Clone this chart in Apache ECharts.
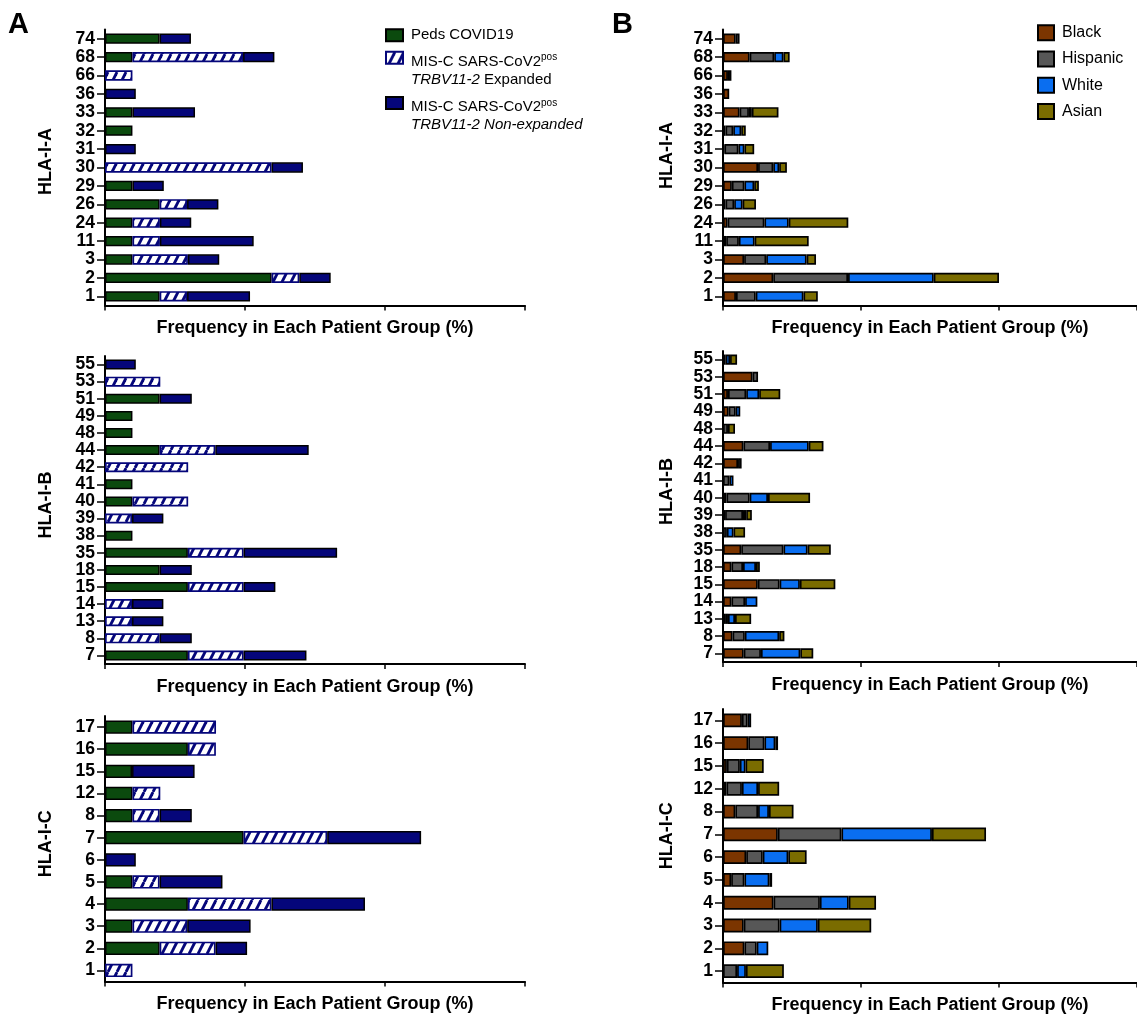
<!DOCTYPE html>
<html>
<head>
<meta charset="utf-8">
<script src="https://cdn.jsdelivr.net/npm/echarts@6/dist/echarts.min.js"></script>
<style>
html,body{margin:0;padding:0;background:#fff;}
#c{width:1137px;height:1021px;}
</style>
</head>
<body>
<div id="c"></div>
<script>
// ---------- categories (HLA alleles, top to bottom) ----------
const catsA = ['74','68','66','36','33','32','31','30','29','26','24','11','3','2','1'];
const catsB = ['55','53','51','49','48','44','42','41','40','39','38','35','18','15','14','13','8','7'];
const catsC = ['17','16','15','12','8','7','6','5','4','3','2','1'];

// ---------- Panel A: patient groups ----------
const pedsA = [3.9, 1.96, 0, 0, 1.96, 1.96, 0, 0, 1.96, 3.9, 1.96, 1.96, 1.96, 11.9, 3.9];
const expA  = [0, 7.9, 1.96, 0, 0, 0, 0, 11.9, 0, 1.96, 1.96, 1.96, 3.96, 1.98, 1.96];
const nonA  = [2.24, 2.24, 0, 2.2, 4.47, 0, 2.2, 2.24, 2.24, 2.24, 2.24, 6.7, 2.24, 2.24, 4.5];

const pedsB = [0, 0, 3.9, 1.96, 1.96, 3.9, 0, 1.96, 1.96, 0, 1.96, 5.92, 3.9, 5.92, 0, 0, 0, 5.92];
const expB  = [0, 3.95, 0, 0, 0, 3.98, 5.94, 0, 3.98, 1.93, 0, 3.98, 0, 3.98, 1.93, 1.93, 3.9, 3.98];
const nonB  = [2.2, 0, 2.3, 0, 0, 6.67, 0, 0, 0, 2.24, 0, 6.68, 2.3, 2.27, 2.24, 2.24, 2.3, 4.49];

const pedsC = [1.96, 5.92, 1.93, 1.96, 1.96, 9.9, 0, 1.96, 5.92, 1.96, 3.9, 0];
const expC  = [5.97, 2.0, 0, 1.99, 1.94, 5.97, 0, 1.94, 5.97, 3.91, 4.0, 1.96];
const nonC  = [0, 0, 4.47, 0, 2.3, 6.71, 2.2, 4.49, 6.68, 4.53, 2.25, 0];

// ---------- Panel B: ethnicity ----------
const blackA = [0.92, 1.93, 0.36, 0.45, 1.2, 0.18, 0.1, 2.54, 0.64, 0.18, 0.33, 0.23, 1.53, 3.64, 0.94];
const hispA  = [0.28, 1.78, 0.25, 0, 0.68, 0.56, 1.02, 1.1, 0.91, 0.63, 2.67, 0.92, 1.6, 5.42, 1.43];
const whiteA = [0, 0.67, 0, 0, 0.21, 0.58, 0.43, 0.43, 0.71, 0.61, 1.76, 1.14, 2.93, 6.21, 3.46];
const asianA = [0, 0.45, 0, 0, 1.93, 0.33, 0.71, 0.56, 0.34, 0.97, 4.32, 3.92, 0.68, 4.73, 1.04];

const blackB = [0, 2.14, 0.36, 0.41, 0, 1.48, 1.09, 0, 0.25, 0.15, 0, 1.32, 0.61, 2.52, 0.61, 0.15, 0.69, 1.5];
const hispB  = [0.2, 0.4, 1.32, 0.51, 0.36, 1.93, 0.26, 0.46, 1.68, 1.3, 0.28, 3.06, 0.84, 1.58, 0.99, 0.21, 0.89, 1.25];
const whiteB = [0.31, 0, 0.94, 0.33, 0, 2.8, 0, 0.3, 1.33, 0.23, 0.48, 1.75, 0.94, 1.47, 0.89, 0.51, 2.49, 2.85];
const asianB = [0.51, 0, 1.53, 0, 0.51, 1.07, 0, 0, 3.05, 0.41, 0.84, 1.68, 0.28, 2.57, 0, 1.17, 0.38, 0.94];

const blackC = [1.37, 1.83, 0.28, 0.25, 0.89, 3.97, 1.68, 0.59, 3.66, 1.5, 1.55, 0];
const hispC  = [0.41, 1.17, 0.94, 1.12, 1.65, 4.61, 1.2, 0.96, 3.36, 2.6, 0.89, 1.02];
const whiteC = [0.26, 0.79, 0.41, 1.17, 0.79, 6.56, 1.85, 1.81, 2.09, 2.77, 0.84, 0.64];
const asianC = [0, 0.2, 1.32, 1.53, 1.78, 3.92, 1.33, 0.2, 1.98, 3.87, 0, 2.75];

const hlaNames = ['HLA-I-A', 'HLA-I-B', 'HLA-I-C'];
const xName = 'Frequency in Each Patient Group (%)';
const nPeds = 'Peds COVID19';
const nExp = 'MIS-C SARS-CoV2pos TRBV11-2 Expanded';
const nNon = 'MIS-C SARS-CoV2pos TRBV11-2 Non-expanded';
const ethNames = ['Black', 'Hispanic', 'White', 'Asian'];

// ---------- styling ----------
const FF = '"Liberation Sans", Arial, Helvetica, sans-serif';
const GREEN = '#0B4A0E', NAVY = '#05067A';
const ETH_COLORS = ['#7B3500', '#575757', '#0A6EF0', '#7A6C00'];

function makeHatch() {
  const c = document.createElement('canvas');
  c.width = 9; c.height = 18;
  const g = c.getContext('2d');
  g.fillStyle = '#ffffff'; g.fillRect(0, 0, 9, 18);
  g.strokeStyle = NAVY; g.lineWidth = 2.8;
  [-9, 0, 9].forEach(function (x0) {
    g.beginPath(); g.moveTo(x0, 18); g.lineTo(x0 + 9, 0); g.stroke();
  });
  return c;
}
const HATCH = { image: makeHatch(), repeat: 'repeat' };

const grids = [
  { left: 105, top: 29.5, width: 420, height: 276 },
  { left: 105, top: 356, width: 420, height: 308 },
  { left: 105, top: 716, width: 420, height: 265.5 },
  { left: 723, top: 29.5, width: 421, height: 276 },
  { left: 723, top: 351, width: 421, height: 311 },
  { left: 723, top: 709, width: 421, height: 273.5 }
];
const catList = [catsA, catsB, catsC, catsA, catsB, catsC];
const nameShift = [12, 10, 10, 24, 30, 20];
const nameGaps = [50, 50, 50, 47, 47, 47];
const barW = [10.3, 10, 13.3, 10.3, 10.2, 13.8];

const xAxes = grids.map(function (g, i) {
  return {
    type: 'value', gridIndex: i, min: 0, max: 30, interval: 10,
    axisLine: { show: true, onZero: false, lineStyle: { color: '#000', width: 2 } },
    axisTick: { show: true, length: 5, lineStyle: { color: '#000', width: 1.5 } },
    axisLabel: { show: false },
    splitLine: { show: false },
    name: xName, nameLocation: 'middle', nameGap: 14,
    nameTextStyle: { fontSize: 18, fontWeight: 'bold', color: '#000', fontFamily: FF }
  };
});
const yAxes = grids.map(function (g, i) {
  return {
    type: 'category', gridIndex: i, data: catList[i], inverse: true,
    axisLine: { show: true, onZero: false, lineStyle: { color: '#000', width: 2 } },
    axisTick: { show: true, alignWithLabel: true, interval: 0, length: 8, lineStyle: { color: '#000', width: 1.5 } },
    axisLabel: { interval: 0, fontSize: 17.5, fontWeight: 'bold', color: '#000', margin: 10, fontFamily: FF },
    splitLine: { show: false },
    name: hlaNames[i % 3], nameLocation: 'middle', nameGap: nameGaps[i],
    nameTextStyle: { fontSize: 18, fontWeight: 'bold', color: '#000', fontFamily: FF, padding: [0, 0, 0, nameShift[i]] }
  };
});

function clean(arr) { return arr.map(function (v) { return v === 0 ? null : v; }); }

const series = [];
const groupSets = [[pedsA, expA, nonA], [pedsB, expB, nonB], [pedsC, expC, nonC]];
groupSets.forEach(function (set, k) {
  const names = [nPeds, nExp, nNon];
  const fills = [GREEN, HATCH, NAVY];
  const borders = ['#000', NAVY, '#000'];
  set.forEach(function (arr, j) {
    series.push({
      type: 'bar', name: names[j], stack: 'p' + k, xAxisIndex: k, yAxisIndex: k,
      barWidth: barW[k], data: clean(arr),
      itemStyle: { color: fills[j], borderColor: borders[j], borderWidth: j === 1 ? 1.7 : 1.5 }
    });
  });
});
const ethSets = [[blackA, hispA, whiteA, asianA], [blackB, hispB, whiteB, asianB], [blackC, hispC, whiteC, asianC]];
ethSets.forEach(function (set, k) {
  set.forEach(function (arr, j) {
    series.push({
      type: 'bar', name: ethNames[j], stack: 'e' + k, xAxisIndex: k + 3, yAxisIndex: k + 3,
      barWidth: barW[k + 3], data: clean(arr),
      itemStyle: { color: ETH_COLORS[j], borderColor: '#000', borderWidth: 1.7 }
    });
  });
});

const legText = {};
legText[nPeds] = 'Peds COVID19';
legText[nExp] = 'MIS-C SARS-CoV2{sup|pos}\n{i|TRBV11-2} Expanded';
legText[nNon] = 'MIS-C SARS-CoV2{sup|pos}\n{i|TRBV11-2 Non-expanded}';
const richLeg = {
  sup: { fontSize: 10, lineHeight: 8, verticalAlign: 'top', color: '#000', fontFamily: FF },
  i: { fontSize: 15, lineHeight: 18, fontStyle: 'italic', color: '#000', fontFamily: FF }
};
function legA(name, top, pad, lh) {
  return {
    data: [name], left: 385, top: top, padding: 0, orient: 'vertical',
    icon: 'rect', itemWidth: 17, itemHeight: 12, selectedMode: false,
    formatter: function (n) { return legText[n]; },
    textStyle: { fontSize: 15, lineHeight: lh, color: '#000', fontFamily: FF, padding: pad, rich: richLeg }
  };
}

const option = {
  animation: false,
  backgroundColor: '#fff',
  title: [
    { text: 'A', left: 8, top: 10.5, padding: 0, textStyle: { fontSize: 29, fontWeight: 'bold', color: '#000', fontFamily: FF } },
    { text: 'B', left: 612, top: 10, padding: 0, textStyle: { fontSize: 29, fontWeight: 'bold', color: '#000', fontFamily: FF } }
  ],
  legend: [
    legA(nPeds, 27.8, [0, 0, 0, 3], 15),
    legA(nExp, 26.7, [26, 0, 0, 3], 18),
    legA(nNon, 72, [26, 0, 0, 3], 18),
    {
      data: ethNames, left: 1037, top: 24.3, padding: 0, orient: 'vertical',
      icon: 'rect', itemWidth: 16, itemHeight: 15, itemGap: 9.2, selectedMode: false,
      textStyle: { fontSize: 16, lineHeight: 15, color: '#000', fontFamily: FF, padding: [0, 0, 0, 3] }
    }
  ],
  grid: grids,
  xAxis: xAxes,
  yAxis: yAxes,
  series: series
};

const chart = echarts.init(document.getElementById('c'), null, { renderer: 'canvas' });
chart.setOption(option);
</script>
</body>
</html>
